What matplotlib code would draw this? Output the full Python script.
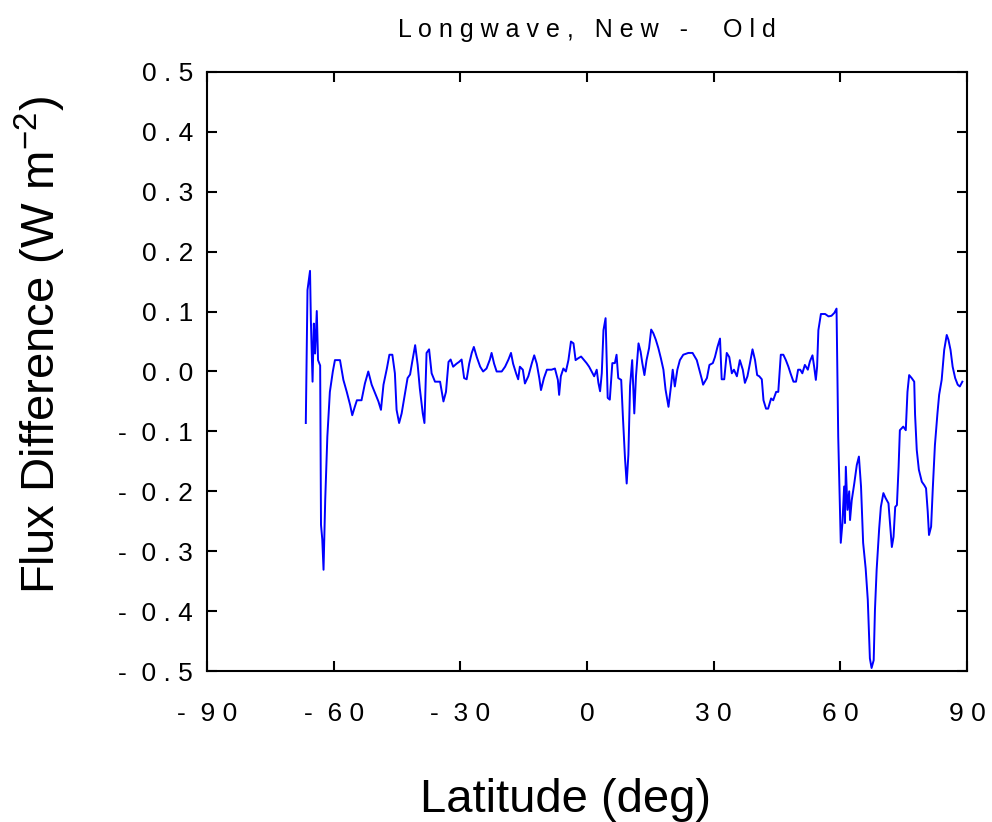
"""
Longwave flux difference (new - old) against latitude
"""

import matplotlib
matplotlib.use('Agg')
import numpy as np
import matplotlib.pyplot as plt

# ---------------------------------------------------------------
# Data
# ---------------------------------------------------------------
lat = [-66.6, -66.5, -66.2, -65.6, -65.4, -65.0, -64.7, -64.4, -64.0, -63.7,
       -63.2, -63.0, -62.7, -62.4, -62.0, -61.5, -60.9, -60.2, -59.7, -58.5,
       -57.7, -56.9, -56.1, -55.6, -55.0, -54.5, -53.4, -52.6, -51.8, -51.0,
       -50.2, -49.4, -48.8, -48.2, -47.4, -46.8, -46.1, -45.5, -45.1, -44.5,
       -43.9, -43.1, -42.5, -41.9, -41.4, -40.7, -40.1, -39.6, -38.9, -38.5,
       -38.0, -37.4, -36.8, -36.0, -34.8, -34.0, -33.4, -32.8, -32.3, -31.7,
       -30.9, -30.3, -29.7, -29.1, -28.5, -27.9, -27.3, -26.8, -26.1, -25.3,
       -24.6, -23.8, -23.0, -22.6, -22.0, -21.4, -20.2, -19.4, -18.6, -18.0,
       -17.5, -16.8, -16.3, -15.9, -15.2, -14.7, -13.9, -13.1, -12.5, -11.9,
       -11.3, -10.9, -10.2, -9.5, -8.4, -7.6, -6.9, -6.6, -6.2, -5.6,
       -5.0, -4.4, -3.8, -3.2, -2.7, -2.1, -1.4, -0.7, -0.1, 0.5,
       1.1, 1.7, 2.3, 2.7, 3.1, 3.5, 3.9, 4.4, 4.9, 5.4,
       6.0, 6.6, 7.0, 7.4, 8.1, 8.5, 9.0, 9.4, 9.8, 10.2,
       10.7, 11.2, 11.6, 12.2, 12.7, 13.1, 13.6, 14.1, 14.7, 15.2,
       15.7, 16.3, 16.9, 17.5, 18.1, 18.6, 19.3, 19.9, 20.3, 20.8,
       21.4, 22.0, 22.8, 24.0, 25.0, 26.0, 26.6, 27.2, 27.5, 28.4,
       29.0, 29.8, 30.3, 30.9, 31.5, 31.9, 32.5, 33.1, 33.7, 34.3,
       34.8, 35.5, 36.2, 36.9, 37.4, 38.0, 38.6, 39.2, 39.8, 40.3,
       40.8, 41.4, 41.8, 42.4, 42.9, 43.6, 44.1, 44.8, 45.3, 45.9,
       46.5, 47.1, 47.7, 48.2, 48.9, 49.5, 50.0, 50.5, 51.0, 51.6,
       52.3, 52.8, 53.4, 53.8, 54.2, 54.5, 54.8, 55.4, 56.4, 57.2,
       57.9, 58.6, 59.1, 59.5, 60.1, 60.5, 60.9, 61.1, 61.3, 61.7,
       62.1, 62.3, 62.7, 63.3, 63.9, 64.4, 64.9, 65.4, 66.0, 66.5,
       67.0, 67.4, 67.9, 68.2, 68.6, 69.2, 69.6, 70.2, 70.7, 71.4,
       71.8, 72.2, 72.6, 73.0, 73.4, 73.8, 74.1, 74.9, 75.5, 75.9,
       76.3, 76.9, 77.5, 77.7, 78.1, 78.6, 79.3, 79.9, 80.3, 80.7,
       81.0, 81.5, 81.9, 82.4, 83.0, 83.4, 84.0, 84.6, 85.2, 85.6,
       86.1, 86.6, 87.2, 87.8, 88.3, 88.9]

flux_diff = [-0.086, -0.031, 0.136, 0.168, 0.086, -0.017, 0.080, 0.030, 0.101, 0.019,
             0.010, -0.256, -0.280, -0.331, -0.214, -0.109, -0.034, 0.000, 0.019, 0.019,
             -0.014, -0.034, -0.056, -0.073, -0.059, -0.048, -0.048, -0.020, 0.000, -0.022,
             -0.036, -0.050, -0.064, -0.022, 0.005, 0.028, 0.028, -0.003, -0.064, -0.086,
             -0.070, -0.036, -0.011, -0.005, 0.016, 0.044, 0.011, -0.028, -0.070, -0.086,
             0.031, 0.037, -0.003, -0.017, -0.017, -0.050, -0.034, 0.016, 0.020, 0.008,
             0.013, 0.016, 0.020, -0.011, -0.013, 0.013, 0.031, 0.041, 0.024, 0.008,
             0.000, 0.005, 0.020, 0.031, 0.013, 0.000, 0.000, 0.008, 0.020, 0.031,
             0.013, -0.003, -0.013, 0.008, 0.003, -0.020, -0.008, 0.013, 0.027, 0.013,
             -0.011, -0.031, -0.011, 0.003, 0.003, 0.005, -0.014, -0.039, -0.008, 0.005,
             0.000, 0.019, 0.050, 0.047, 0.019, 0.022, 0.025, 0.019, 0.014, 0.008,
             0.000, -0.008, 0.003, -0.019, -0.033, -0.003, 0.069, 0.089, -0.044, -0.047,
             0.014, 0.014, 0.028, -0.011, -0.014, -0.075, -0.145, -0.187, -0.139, -0.024,
             0.019, -0.070, -0.008, 0.047, 0.033, 0.014, -0.006, 0.019, 0.039, 0.070,
             0.064, 0.053, 0.039, 0.022, 0.003, -0.030, -0.059, -0.024, 0.003, -0.025,
             0.003, 0.019, 0.028, 0.031, 0.031, 0.019, 0.003, -0.013, -0.022, -0.011,
             0.011, 0.014, 0.024, 0.041, 0.055, -0.013, -0.013, 0.031, 0.024, -0.003,
             0.003, -0.008, 0.019, 0.003, -0.019, -0.008, 0.014, 0.037, 0.019, -0.006,
             -0.008, -0.013, -0.048, -0.062, -0.062, -0.045, -0.048, -0.034, -0.034, 0.028,
             0.028, 0.019, 0.008, -0.003, -0.017, -0.017, 0.003, 0.003, -0.003, 0.011,
             0.003, 0.017, 0.027, 0.008, -0.014, 0.008, 0.069, 0.096, 0.096, 0.092,
             0.093, 0.098, 0.105, -0.109, -0.286, -0.253, -0.192, -0.253, -0.159, -0.231,
             -0.200, -0.248, -0.215, -0.187, -0.156, -0.142, -0.192, -0.286, -0.329, -0.381,
             -0.479, -0.495, -0.482, -0.398, -0.331, -0.262, -0.226, -0.203, -0.211, -0.220,
             -0.256, -0.293, -0.276, -0.226, -0.223, -0.159, -0.098, -0.092, -0.098, -0.034,
             -0.006, -0.011, -0.017, -0.072, -0.131, -0.164, -0.184, -0.190, -0.195, -0.234,
             -0.273, -0.259, -0.195, -0.123, -0.070, -0.039, -0.014, 0.036, 0.061, 0.053,
             0.036, 0.008, -0.011, -0.022, -0.025, -0.017]

x_ticks = [-90, -60, -30, 0, 30, 60, 90]
x_ticklabels = ['-  9 0', '-  6 0', '-  3 0', '0', '3 0', '6 0', '9 0']
y_ticks = [-0.5, -0.4, -0.3, -0.2, -0.1, 0.0, 0.1, 0.2, 0.3, 0.4, 0.5]
y_ticklabels = ['-  0 . 5', '-  0 . 4', '-  0 . 3', '-  0 . 2', '-  0 . 1', '0 . 0',
                '0 . 1', '0 . 2', '0 . 3', '0 . 4', '0 . 5']

FONT = 'Liberation Sans'

fig = plt.figure(figsize=(9.92, 8.22), dpi=100, facecolor='white')
ax = fig.add_axes([207/992, 151/822, 760/992, 599/822])

ax.plot(lat, flux_diff, color='#0000FF', linewidth=1.4)

ax.set_xlim(-90, 90)
ax.set_ylim(-0.5, 0.5)
ax.set_xticks(x_ticks)
ax.set_xticklabels(x_ticklabels, fontfamily=FONT, fontsize=19)
ax.set_yticks(y_ticks)
ax.set_yticklabels(y_ticklabels, fontfamily=FONT, fontsize=19)

ax.tick_params(direction='in', length=7, width=1.5, top=True, right=True,
               color='black')
ax.tick_params(axis='x', pad=22)
ax.tick_params(axis='y', pad=10)

for spine in ax.spines.values():
    spine.set_edgecolor('black')
    spine.set_linewidth(1.5)

# title, letter spaced like the original
fig.text(587/992, 1 - 30/822, 'L o n g w a v e ,   N e w   -     O l d',
         ha='center', va='center', fontfamily=FONT, fontsize=18)

fig.text(40/992, 1 - 345/822, r'Flux Difference (W m$^{\mathregular{-2}}$)', rotation=90,
         ha='center', va='center', fontfamily=FONT, fontsize=34)
fig.text(565/992, 1 - 800/822, 'Latitude (deg)',
         ha='center', va='center', fontfamily=FONT, fontsize=34)

plt.savefig('out.png', dpi=100, facecolor='white')
